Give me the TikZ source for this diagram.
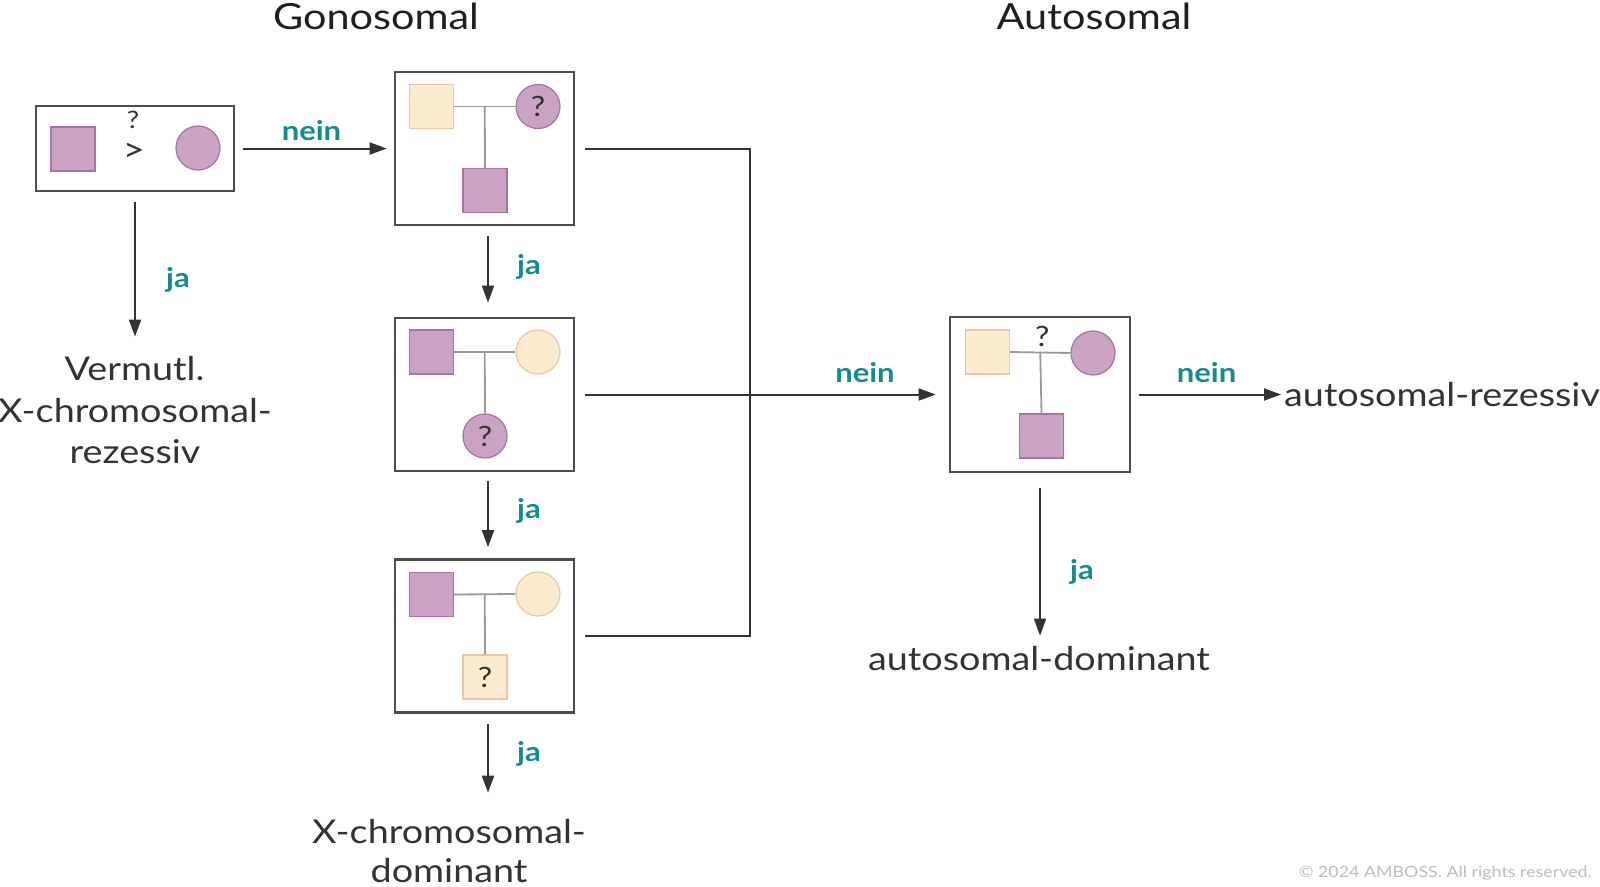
\documentclass[tikz,border=0pt]{standalone}
\usepackage{fontspec}
\setmainfont{Lato}[FakeStretch=1.15]
\usetikzlibrary{arrows.meta,calc}
\definecolor{boxc}{HTML}{4D4D4D}
\definecolor{arrc}{HTML}{333333}
\definecolor{ambteal}{HTML}{138C8C}
\definecolor{purf}{HTML}{C9A2C4}
\definecolor{purd}{HTML}{A9739F}
\definecolor{crf}{HTML}{FDEBD0}
\definecolor{crd}{HTML}{E5C9A3}
\definecolor{pedl}{HTML}{9A9A9A}
\definecolor{txt}{HTML}{333333}
\definecolor{copyc}{HTML}{BDBDBD}
\tikzset{
  frame/.style={draw=boxc, line width=2.8pt, fill=white, minimum width=179pt, minimum height=153pt, inner sep=0pt, rectangle},
  psq/.style={rectangle, draw=purd, fill=purf, line width=1.2pt, minimum size=44pt, inner sep=0pt},
  pci/.style={circle, draw=purd, fill=purf, line width=1.2pt, minimum size=44pt, inner sep=0pt},
  csq/.style={rectangle, draw=crd, fill=crf, line width=1.2pt, minimum size=44pt, inner sep=0pt},
  cci/.style={circle, draw=crd, fill=crf, line width=1.2pt, minimum size=44pt, inner sep=0pt},
  qm/.style={font=\fontsize{28}{32}\selectfont, text=txt},
  ped/.style={draw=pedl, line width=1.8pt},
  conn/.style={draw=arrc, line width=2pt},
  arr/.style={draw=arrc, line width=2pt, -{Triangle[length=17pt,width=12pt]}},
  lab/.style={text=ambteal, font=\bfseries\fontsize{27}{32}\selectfont, anchor=base, inner sep=0pt},
  big/.style={text=txt, font=\fontsize{32.8}{38}\selectfont, anchor=base, inner sep=0pt},
  ttl/.style={text=black!88, font=\fontsize{36}{42}\selectfont, anchor=base, inner sep=0pt},
}
\begin{document}
\begin{tikzpicture}[x=1pt,y=-1pt]
\fill[white] (0,0) rectangle (1600,886);
\useasboundingbox (0,0) rectangle (1600,886);

% titles
\node[ttl] (tg) at (376,29) {Gonosomal};
\node[ttl] (ta) at (1094,29) {Autosomal};

% boxes
\node[frame, minimum width=198pt, minimum height=85pt] (b1) at (135,148.5) {};
\node[frame] (b2) at (484.5,148.5) {};
\node[frame] (b3) at (484.5,394.5) {};
\node[frame] (b4) at (484.5,636) {};
\node[frame, minimum width=180pt, minimum height=155pt] (b5) at (1040,394.5) {};

% box 1 content
\node[psq] (b1s) at (73,149) {};
\node[pci] (b1c) at (198,148) {};
\node[font=\fontsize{24}{28}\selectfont, text=txt, inner sep=0pt] (b1q) at (133,120) {?};
\node[font=\fontsize{33}{36}\selectfont, text=txt, inner sep=0pt] (b1g) at (134,152) {>};

% box 2 content
\node[csq] (b2f) at ($(b2)+(-53,-42)$) {};
\node[pci, qm] (b2m) at ($(b2)+(53.5,-42)$) {?};
\node[psq] (b2k) at ($(b2)+(0.5,42)$) {};
\draw[ped] (b2f.east) -- (b2m.west);
\draw[ped] ($(b2f.east)!0.5!(b2m.west)$) -- (b2k.north);

% box 3 content
\node[psq] (b3f) at ($(b3)+(-53,-42.5)$) {};
\node[cci] (b3m) at ($(b3)+(53.5,-42.5)$) {};
\node[pci, qm] (b3k) at ($(b3)+(0.5,41.5)$) {?};
\draw[ped] (b3f.east) -- (b3m.west);
\draw[ped] ($(b3f.east)!0.5!(b3m.west)$) -- (b3k.north);

% box 4 content
\node[psq] (b4f) at ($(b4)+(-53,-41.5)$) {};
\node[cci] (b4m) at ($(b4)+(53.5,-42)$) {};
\node[csq, qm] (b4k) at ($(b4)+(0.5,41)$) {?};
\draw[ped] (b4f.east) -- (b4m.west);
\draw[ped] ($(b4f.east)!0.5!(b4m.west)$) -- (b4k.north);

% box 5 content
\node[csq] (b5f) at ($(b5)+(-52.5,-42.5)$) {};
\node[pci] (b5m) at ($(b5)+(53,-41.5)$) {};
\node[psq] (b5k) at ($(b5)+(1.5,41.5)$) {};
\draw[ped] (b5f.east) -- (b5m.west);
\draw[ped] ($(b5f.east)!0.5!(b5m.west)$) -- (b5k.north);
\node[qm, inner sep=0pt] (b5q) at ($(b5f.east)!0.5!(b5m.west)+(2,-16)$) {?};

% result texts
\node[big] (v1) at (134.5,380) {Vermutl.};
\node[big] (v2) at (135,422) {X-chromosomal-};
\node[big] (v3) at (135,463) {rezessiv};
\node[big] (x1) at (449,843) {X-chromosomal-};
\node[big] (x2) at (449,882) {dominant};
\node[big, anchor=base west] (ar) at (1284,406) {autosomal-rezessiv};
\node[big] (ad) at (1039,670) {autosomal-dominant};

% connectors
\draw[arr] ([xshift=8pt]b1.east) -- ([xshift=-7pt]b2.west);
\draw[arr, shorten >=19pt] ([yshift=-10pt]b1.south) -- (b1.south |- v1.north);
\draw[arr] ([xshift=3.5pt,yshift=-10pt]b2.south) -- ([xshift=3.5pt,yshift=14pt]b3.north);
\draw[arr] ([xshift=3.5pt,yshift=-9pt]b3.south) -- ([xshift=3.5pt,yshift=11pt]b4.north);
\draw[arr, shorten >=26pt] ([xshift=3.5pt,yshift=-10pt]b4.south) -- ([xshift=3.5pt]b4.south |- x1.north);
\coordinate (mj) at (750,394.5);
\draw[conn] ([xshift=10pt]b2.east) -| (mj);
\draw[conn] ([xshift=10pt]b4.east) -| (mj);
\draw[arr] ([xshift=10pt]b3.east) -- ([xshift=-13pt]b5.west);
\draw[arr] ([xshift=8pt]b5.east) -- ([xshift=-3pt]b5.east -| ar.west);
\draw[arr, shorten >=10pt] ([yshift=-15pt]b5.south) -- (b5.south |- ad.north);

% labels
\node[lab] (l1) at (311.5,140) {nein};
\node[lab] (l2) at (178,287) {ja};
\node[lab] (l3) at (529,274) {ja};
\node[lab] (l4) at (529,518) {ja};
\node[lab] (l5) at (529,761) {ja};
\node[lab] (l6) at (865,382) {nein};
\node[lab] (l7) at (1082,579) {ja};
\node[lab] (l8) at (1206.5,382) {nein};

\node[text=copyc, font=\fontsize{15.5}{20}\selectfont, anchor=base east, inner sep=0pt] (cp) at (1592,877) {© 2024 AMBOSS. All rights reserved.};
\end{tikzpicture}
\end{document}
